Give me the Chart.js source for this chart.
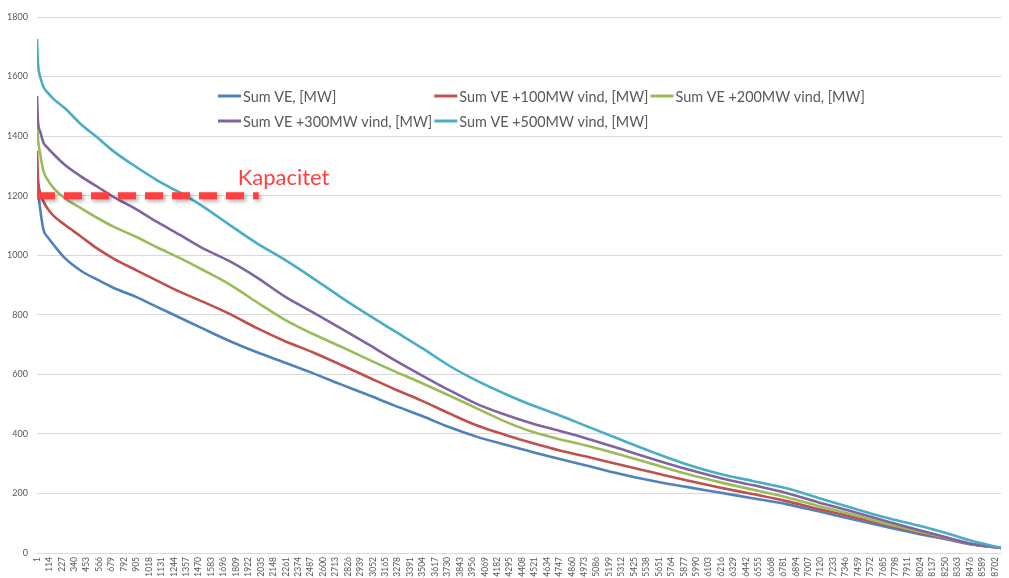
<!DOCTYPE html>
<html lang="da">
<head>
    <meta charset="UTF-8">
    <title>Varighedskurver Sum VE</title>
    <script src="https://cdn.jsdelivr.net/npm/chart.js@4.4.1/dist/chart.umd.min.js"></script>
    <style>
        body { margin: 0; background: #fff; overflow: hidden; }
        #wrap { width: 1009px; height: 578px; position: relative; }
    </style>
</head>
<body>
    <div id="wrap"><canvas id="chart"></canvas></div>

    <script>
        const hours = [1, 10, 30, 60, 100, 150, 250, 400, 550, 700, 900, 1100, 1300, 1500, 1750,
            2000, 2250, 2500, 2750, 3000, 3250, 3500, 3750, 4000, 4250, 4500, 4750, 5000, 5300,
            5600, 5900, 6200, 6500, 6800, 7100, 7400, 7700, 8000, 8250, 8500, 8760];

        const sumVE = [1270, 1220, 1155, 1085, 1060, 1036, 992, 948, 918, 890, 860, 825, 790, 755, 712,
            674, 640, 605, 568, 532, 495, 460, 422, 390, 364, 339, 316, 293, 265,
            242, 222, 203, 184, 165, 140, 114, 89, 65, 47, 29, 17];
        const sumVE100 = [1350, 1260, 1210, 1180, 1155, 1133, 1103, 1063, 1022, 988, 950, 913, 877, 845, 803,
            755, 712, 675, 634, 592, 550, 511, 468, 428, 397, 369, 344, 323, 296,
            270, 244, 220, 198, 175, 148, 122, 96, 70, 50, 29, 17];
        const sumVE200 = [1444, 1390, 1340, 1282, 1252, 1226, 1192, 1158, 1125, 1095, 1062, 1025, 990, 952, 902,
            842, 784, 737, 695, 652, 610, 570, 528, 485, 442, 407, 382, 360, 330,
            298, 266, 238, 213, 188, 158, 130, 100, 73, 52, 30, 17];
        const sumVE300 = [1535, 1450, 1415, 1378, 1360, 1340, 1305, 1265, 1230, 1195, 1155, 1110, 1068, 1025, 980,
            925, 862, 810, 757, 703, 648, 596, 546, 500, 465, 435, 410, 384, 350,
            315, 282, 253, 228, 202, 170, 140, 108, 78, 54, 30, 17];
        const sumVE500 = [1726, 1645, 1600, 1565, 1545, 1525, 1495, 1440, 1395, 1348, 1297, 1250, 1210, 1166, 1102,
            1040, 985, 925, 862, 802, 745, 688, 628, 578, 535, 496, 462, 425, 381,
            338, 298, 266, 242, 218, 185, 152, 120, 93, 68, 40, 17];

        const seriesLabels = ['Sum VE, [MW]', 'Sum VE +100MW vind, [MW]', 'Sum VE +200MW vind, [MW]',
            'Sum VE +300MW vind, [MW]', 'Sum VE +500MW vind, [MW]'];
        const seriesColors = ['#4f81bd', '#c0504d', '#9bbb59', '#8064a2', '#4bacc6'];

        const capacityLabel = 'Kapacitet';
        const capacityValue = [1200, 1200];
        const capacityHours = [1, 2015];

        const xTickLabels = [1, 114, 227, 340, 453, 566, 679, 792, 905, 1018, 1131, 1244, 1357, 1470,
            1583, 1696, 1809, 1922, 2035, 2148, 2261, 2374, 2487, 2600, 2713, 2826, 2939, 3052, 3165,
            3278, 3391, 3504, 3617, 3730, 3843, 3956, 4069, 4182, 4295, 4408, 4521, 4634, 4747, 4860,
            4973, 5086, 5199, 5312, 5425, 5538, 5651, 5764, 5877, 5990, 6103, 6216, 6329, 6442, 6555,
            6668, 6781, 6894, 7007, 7120, 7233, 7346, 7459, 7572, 7685, 7798, 7911, 8024, 8137, 8250,
            8363, 8476, 8589, 8702];
        const yTickLabels = [0, 200, 400, 600, 800, 1000, 1200, 1400, 1600, 1800];

        const allSeries = [sumVE, sumVE100, sumVE200, sumVE300, sumVE500];

        const datasets = allSeries.map((vals, i) => ({
            label: seriesLabels[i],
            data: vals.map((v, j) => ({ x: hours[j], y: v })),
            borderColor: seriesColors[i],
            borderWidth: 2.6,
            pointRadius: 0,
            cubicInterpolationMode: 'monotone',
            order: allSeries.length - i
        }));

        datasets.push({
            label: capacityLabel,
            isCapacity: true,
            data: capacityHours.map((h, j) => ({ x: h, y: capacityValue[j] })),
            borderColor: '#ff4040',
            borderWidth: 7,
            borderDash: [18, 9],
            borderCapStyle: 'butt',
            pointRadius: 0,
            order: 0
        });

        // shadow under the dashed capacity line, like the Excel original
        const capShadow = {
            id: 'capShadow',
            beforeDatasetDraw(chart, args) {
                if (!chart.data.datasets[args.index].isCapacity) return;
                const ctx = chart.ctx;
                ctx.save();
                ctx.shadowColor = 'rgba(0,0,0,0.35)';
                ctx.shadowBlur = 4;
                ctx.shadowOffsetX = 2;
                ctx.shadowOffsetY = 2;
            },
            afterDatasetDraw(chart, args) {
                if (!chart.data.datasets[args.index].isCapacity) return;
                chart.ctx.restore();
            }
        };

        // legend laid out in a grid inside the plot, plus the capacity text
        const excelLegend = {
            id: 'excelLegend',
            afterDraw(chart, args, opts) {
                const ctx = chart.ctx;
                const items = chart.data.datasets.filter(d => !d.isCapacity);
                ctx.save();
                ctx.font = opts.font;
                ctx.textBaseline = 'middle';
                const colW = Math.max(...items.map(d => ctx.measureText(d.label).width)) + opts.lineLen + opts.gap + 2;
                items.forEach((d, i) => {
                    const x = opts.x + (i % opts.cols) * colW;
                    const y = opts.y + Math.floor(i / opts.cols) * opts.rowH;
                    ctx.strokeStyle = d.borderColor;
                    ctx.lineWidth = 3;
                    ctx.beginPath();
                    ctx.moveTo(x, y);
                    ctx.lineTo(x + opts.lineLen, y);
                    ctx.stroke();
                    ctx.fillStyle = '#595959';
                    ctx.fillText(d.label, x + opts.lineLen + opts.gap, y + 1);
                });

                const cap = chart.data.datasets.find(d => d.isCapacity);
                const last = cap.data[cap.data.length - 1];
                const xs = chart.scales.x, ys = chart.scales.y;
                ctx.font = opts.capFont;
                ctx.fillStyle = '#ff4040';
                ctx.textBaseline = 'alphabetic';
                ctx.fillText(cap.label, xs.getPixelForValue(last.x) - 21, ys.getPixelForValue(last.y) - 11);
                ctx.restore();
            }
        };

        const ctx = document.getElementById('chart').getContext('2d');
        const chart = new Chart(ctx, {
            type: 'line',
            data: { datasets: datasets },
            plugins: [capShadow, excelLegend],
            options: {
                responsive: true,
                maintainAspectRatio: false,
                animation: false,
                layout: { padding: { top: 17, right: 2, left: 0, bottom: 0 } },
                plugins: {
                    legend: { display: false },
                    tooltip: { enabled: false },
                    excelLegend: {
                        x: 218, y: 96, rowH: 25, cols: 3, lineLen: 23, gap: 2,
                        font: '14.4px Lato',
                        capFont: '22px Lato'
                    }
                },
                scales: {
                    x: {
                        type: 'linear',
                        min: 1,
                        max: 8760,
                        grid: { display: false, drawTicks: false },
                        border: { display: false },
                        afterBuildTicks: (scale) => {
                            scale.ticks = xTickLabels.map(v => ({ value: v }));
                        },
                        afterFit: (scale) => { scale.height = 25; },
                        ticks: {
                            autoSkip: false,
                            minRotation: 90,
                            maxRotation: 90,
                            padding: 4,
                            color: '#595959',
                            font: { family: 'Lato', size: 8.5 },
                            callback: (v) => String(v)
                        }
                    },
                    y: {
                        min: 0,
                        max: 1800,
                        afterBuildTicks: (scale) => {
                            scale.ticks = yTickLabels.map(v => ({ value: v }));
                        },
                        afterFit: (scale) => { scale.width = 37; },
                        grid: { color: '#d9d9d9', lineWidth: 1, drawTicks: false },
                        border: { display: false },
                        ticks: {
                            padding: 9,
                            color: '#595959',
                            font: { family: 'Lato', size: 9 },
                            callback: (v) => String(v)
                        }
                    }
                }
            }
        });
    </script>
</body>
</html>
